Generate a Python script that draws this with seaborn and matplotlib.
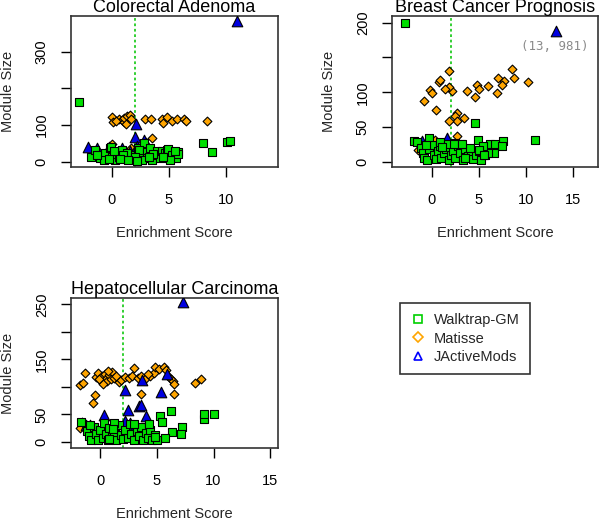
import matplotlib
matplotlib.use("Agg")
import matplotlib.pyplot as plt
import pandas as pd
import seaborn as sns
from matplotlib.lines import Line2D

# --- Data ---

# Colorectal Adenoma
ca_wt_x = [-2.9, 8.0, 8.8, 10.1, 10.4, -1.85, -1.5, -1.06, -0.62, -0.7, -0.18, -0.1, 0.0, 0.3, 0.4,
           0.85, 1.15, 0.6, 1.6, 1.9, 1.3, 2.3, 2.5, 2.8, 2.4, 3.1, 3.1, 2.6, 3.35, 3.5, 3.8, 4.2,
           4.0, 4.4, 4.7, 4.8, 4.9, 4.9, 5.3, 5.6, 5.85, 5.8, 5.1, 2.0, 1.0, -0.3, 0.2, 3.6, 4.5,
           2.2, 1.4, -1.3, 0.7, 3.3, 5.5]
ca_wt_y = [162, 50, 26, 54, 56, 14, 32, 9, 23, 5, 37, 40, 14, 5, 20,
           32, 9, 12, 18, 9, 25, 37, 23, 50, 31, 27, 10, 5, 37, 5, 18, 9,
           28, 30, 23, 32, 9, 35, 18, 9, 27, 22, 5, 14, 18, 8, 28, 20, 14,
           3, 4, 18, 7, 14, 28]
ca_mt_x = [0.0, 0.1, 0.6, 0.85, 1.1, 1.1, 1.35, 1.6, 1.7, 1.2, 0.4, 2.9, 3.4, 4.4, 4.5, 4.8,
           5.3, 5.7, 6.3, 6.5, 8.4, 3.5, 1.7, 0.0]
ca_mt_y = [123, 109, 116, 114, 108, 120, 124, 128, 117, 103, 111, 117, 117, 117, 106, 121,
           112, 115, 115, 110, 111, 65, 37, 47]
ca_ja_x = [11.0, 2.15, 2.0, -2.1, -1.35, -0.25, 2.8, 3.0, 0.9, 1.6, 2.2]
ca_ja_y = [383, 104, 68, 41, 37, 41, 59, 50, 36, 30, 42]

# Breast Cancer Prognosis (the triangle at x=13 is really 981, drawn at the top)
bc_wt_x = [-2.9, 4.6, 11.0, 4.85, -1.9, -0.36, 7.6, 6.2, 6.7, 7.4, 6.55,
           -1.6, -1.2, -1.0, -0.8, -0.5, -0.3, 0.0, 0.2, 0.4, 0.6, 0.9, 1.0, 1.3, 1.5, 1.8,
           2.0, 2.2, 2.5, 2.8, 3.0, 3.3, 3.5, 3.8, 4.1, 4.4, 4.7, 5.0, 5.2, 5.6, 6.0, 3.1,
           -0.6, 0.8, 1.7, 2.4, 4.0, 5.4, 1.06, 2.3, 3.2, 4.96, 5.5, 3.55]
bc_wt_y = [200, 56, 31, 31, 30, 34.5, 30, 26, 26, 22, 12,
           28, 20, 12, 6, 3, 18, 24, 10, 4, 15, 22, 6, 12, 18, 3,
           9, 16, 5, 22, 12, 3, 18, 8, 14, 4, 10, 15, 3, 9, 13, 26,
           24, 29, 26, 27, 20, 22, 21.6, 26, 26, 17, 10, 5]
bc_mt_x = [8.5, 8.7, 10.2, 7.0, 7.7, 7.4, 6.9, 5.96, 4.77, 5.05, 4.6, 3.7, 1.84, 2.1, 1.84,
           1.35, 0.7, 0.85, -0.2, 0.0, -0.8, 0.4, 2.7, 2.4, 3.4, 2.65, 1.84, 2.7, 0.3, -1.5]
bc_mt_y = [133, 121, 114, 121, 116, 111, 99, 109, 111, 104, 93, 101, 131, 101, 108,
           104, 114, 117, 103, 99, 87, 74, 70, 66, 63, 58.5, 58.5, 37, 31, 17]
bc_ja_x = [13.2, -1.07, 1.6, -0.3, 0.5, 1.2]
bc_ja_y = [188, 30, 33.6, 28, 25, 22]

# Hepatocellular Carcinoma
hc_wt_x = [9.2, 9.2, 10.0, 6.27, 5.3, 5.45, 7.2, 7.1, 6.3, 5.7,
           -1.7, -1.2, -1.0, -0.8, -0.6, -0.4, -0.2, 0.0, 0.3, 0.2, 0.5, 0.7, 0.8, 1.0, 1.2,
           1.4, 1.6, 1.8, 2.0, 2.2, 2.4, 2.6, 2.7, 3.0, 3.2, 3.4, 3.6, 3.8, 4.0, 4.2, 4.4,
           4.6, 4.8, 5.0, 3.0, 1.2, -0.9, 4.3, 0.73, 4.85, 1.1]
hc_wt_y = [42.5, 50, 50, 56, 47, 36, 27, 14, 18, 7,
           37, 20, 10, 4, 28, 14, 3, 22, 35, 8, 15, 3, 26, 10, 18,
           4, 30, 12, 5, 22, 8, 33, 15, 4, 20, 10, 28, 3, 16, 8, 22,
           4, 12, 3, 32, 35, 30, 33, 6, 9, 24]
hc_mt_x = [-1.38, -1.77, -1.56, -0.4, -0.2, 0.0, 0.1, 0.3, 0.4, 0.5, 0.6, 0.8, 1.0, 0.2,
           -0.1, 0.7, 0.9, 1.2, 1.6, 1.8, 2.2, 2.5, 2.8, 3.0, 3.3, 3.6, 4.0, 4.4, 4.7, 4.85,
           5.2, 5.6, 5.8, 6.0, 6.2, 6.4, 6.5, 6.5, 3.6, -0.44, -0.65, -1.83, -1.6, 8.4, 8.9,
           4.2, 1.4]
hc_mt_y = [126, 104, 107, 118, 125, 112, 120, 108, 124, 115, 110, 121, 127, 106,
           114, 128, 114, 117, 108, 113, 118, 116, 119, 135, 117, 119, 116, 119, 125, 137,
           133, 136, 130, 120, 114, 110, 106, 88, 88, 85, 71, 25.5, 36, 107, 115,
           124, 120]
hc_ja_x = [7.3, 2.15, 3.7, 5.9, 5.35, 2.4, 3.4, 3.6, 4.0, 0.3, -1.3, -0.9, 2.2, 1.0, 3.0,
           1.5, 2.6]
hc_ja_y = [255, 95, 113, 124, 91, 58, 65.5, 67, 47, 48.6, 30, 30, 38, 27, 28, 20, 35]

methods = ["Walktrap-GM", "Matisse", "JActiveMods"]
fill_colors = {"Walktrap-GM": "#00e000", "Matisse": "#ffa500", "JActiveMods": "#0000e0"}
line_colors = {"Walktrap-GM": "#00d000", "Matisse": "#ffa500", "JActiveMods": "#0000ff"}
markers = {"Walktrap-GM": "s", "Matisse": "D", "JActiveMods": "^"}
sizes = {"Walktrap-GM": 40, "Matisse": 20, "JActiveMods": 58}
draw_order = ["Matisse", "JActiveMods", "Walktrap-GM"]


def make_frame(wt_x, wt_y, mt_x, mt_y, ja_x, ja_y):
    parts = []
    for name, xs, ys in zip(methods, [wt_x, mt_x, ja_x], [wt_y, mt_y, ja_y]):
        parts.append(pd.DataFrame({"score": xs, "size": ys, "method": name}))
    return pd.concat(parts, ignore_index=True)


panels = [
    dict(title="Colorectal Adenoma",
         df=make_frame(ca_wt_x, ca_wt_y, ca_mt_x, ca_mt_y, ca_ja_x, ca_ja_y),
         rect=[71 / 600, 353 / 520, 207 / 600, 151 / 520],
         xlim=(-3.6, 14.6), ylim=(-14.5, 397),
         xticks=[0, 5, 10], yticks=[0, 100, 200, 300],
         yticklabels=["0", "100", "", "300"]),
    dict(title="Breast Cancer Prognosis",
         df=make_frame(bc_wt_x, bc_wt_y, bc_mt_x, bc_mt_y, bc_ja_x, bc_ja_y),
         rect=[392 / 600, 353 / 520, 206 / 600, 151 / 520],
         xlim=(-4.25, 17.65), ylim=(-7.6, 209.6),
         xticks=[0, 5, 10, 15], yticks=[0, 50, 100, 150, 200],
         yticklabels=["0", "50", "100", "", "200"]),
    dict(title="Hepatocellular Carcinoma",
         df=make_frame(hc_wt_x, hc_wt_y, hc_mt_x, hc_mt_y, hc_ja_x, hc_ja_y),
         rect=[71 / 600, 72 / 520, 207 / 600, 150 / 520],
         xlim=(-2.6, 15.7), ylim=(-11, 261.5),
         xticks=[0, 5, 10, 15], yticks=[0, 50, 100, 150, 200, 250],
         yticklabels=["0", "50", "", "150", "", "250"]),
]

sns.set_theme(style="ticks")
plt.rcParams["font.family"] = ["Liberation Sans", "DejaVu Sans"]

fig = plt.figure(figsize=(6, 5.2), dpi=100)
fig.patch.set_facecolor("white")

for p in panels:
    ax = fig.add_axes(p["rect"])
    ax.axvline(2, color="#22cc22", linestyle=(0, (1.5, 1.5)), linewidth=1.3, zorder=1)
    for m in draw_order:
        sub = p["df"][p["df"]["method"] == m]
        sns.scatterplot(data=sub, x="score", y="size", ax=ax, marker=markers[m],
                        color=fill_colors[m], edgecolor="black", linewidth=0.8,
                        s=sizes[m], legend=False, zorder=3)
    ax.set_xlim(*p["xlim"])
    ax.set_ylim(*p["ylim"])
    ax.set_xticks(p["xticks"])
    ax.set_yticks(p["yticks"])
    ax.set_yticklabels(p["yticklabels"])
    ax.set_title(p["title"], fontsize=13, pad=1, color="black")
    ax.set_xlabel("Enrichment Score", fontsize=10.5)
    ax.set_ylabel("Module Size", fontsize=10.5)
    ax.xaxis.set_label_coords(0.5, -66 / 151)
    ax.xaxis.label.set_va("center")
    ax.yaxis.set_label_coords(-63 / 207, 0.5)
    ax.yaxis.label.set_va("center")
    ax.tick_params(axis="x", length=7, width=1, pad=12, labelsize=10.5, colors="black")
    ax.tick_params(axis="y", length=7, width=1, pad=9, labelsize=10.5, colors="black",
                   labelrotation=90)
    for lab in ax.get_yticklabels():
        lab.set_va("center")
    for sp in ax.spines.values():
        sp.set_visible(True)
        sp.set_color("#333333")
        sp.set_linewidth(1.2)
    ax.set_facecolor("white")

    if p["title"] == "Breast Cancer Prognosis":
        ax.text(13.1, 166, "(13, 981)", color="#8a8a8a", fontsize=9,
                ha="center", va="center", family=["DejaVu Sans Mono"])

handles = [Line2D([], [], linestyle="none", marker=markers[m], markersize=6 if m != "Matisse" else 5,
                  markerfacecolor="none", markeredgecolor=line_colors[m], markeredgewidth=1.2)
           for m in methods]
leg = fig.legend(handles, methods, loc="upper left", bbox_to_anchor=(400 / 600, 1 - 303 / 520),
                 frameon=True, fancybox=False, edgecolor="#333333", framealpha=1,
                 fontsize=10.5, handlelength=1.0, handletextpad=0.6, borderpad=0.7,
                 labelspacing=0.3, borderaxespad=0)
leg.get_frame().set_linewidth(1.2)

fig.savefig("out.png", dpi=100, facecolor="white")
